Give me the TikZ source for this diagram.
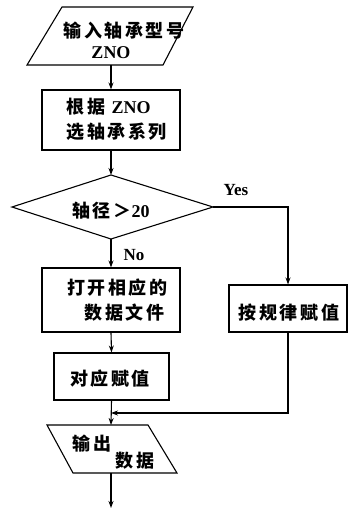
\documentclass[tikz,border=0pt]{standalone}
\usepackage{fontspec}
\newfontfamily\cjk[LetterSpace=14]{Noto Sans CJK SC}
\newfontfamily\latin{Liberation Serif}
\usetikzlibrary{arrows.meta}
\newcommand{\zno}{{\latin\bfseries\fontsize{18}{20}\selectfont ZNO}}
\begin{document}
\begin{tikzpicture}[x=1pt,y=-1pt, line width=1.1pt,
  >={Stealth[length=7pt,width=5pt]},
  txt/.style={font=\cjk\bfseries\fontsize{18}{20}\selectfont, inner sep=0pt},
  box/.style={draw, rectangle, inner sep=0pt},
  lbl/.style={font=\latin\bfseries\fontsize{17}{18}\selectfont, inner sep=0pt}]
\useasboundingbox (0,0) rectangle (350,512);

% input parallelogram
\draw (62,7) -- (193,7) -- (163,65) -- (27,65) -- cycle;
\node[txt] (in1) at (124,31) {输入轴承型号};
\node[txt] (in2) at (111,53) {\zno};
\coordinate (inB) at (111,65);

% select series
\node[box, minimum width=138pt, minimum height=60pt] (sel) at (111,120) {};
\node[txt, anchor=west] (sel1) at (66,107) {根据 \zno};
\node[txt, anchor=west] (sel2) at (66,132) {选轴承系列};

% decision
\coordinate (dT) at (111,175);
\coordinate (dR) at (213,207);
\coordinate (dB) at (111,239);
\coordinate (dL) at (12,207);
\draw (dT) -- (dR) -- (dB) -- (dL) -- cycle;
\node[txt] (cond) at (111,211) {轴径＞{\latin\bfseries 20}};

% open file
\node[box, minimum width=138pt, minimum height=64pt] (open) at (111,300) {};
\node[txt, anchor=east] (open1) at (168,288) {打开相应的};
\node[txt, anchor=east] (open2) at (165,313) {数据文件};

% rule assign
\node[box, minimum width=118pt, minimum height=47pt] (rule) at (288,308.5) {};
\node[txt] (rule1) at (289,313) {按规律赋值};

% assign
\node[box, minimum width=115pt, minimum height=47pt] (asg) at (111.5,376.5) {};
\node[txt] (asg1) at (110,379) {对应赋值};

% output parallelogram
\draw (47,425) -- (148,425) -- (177,473) -- (73,473) -- cycle;
\coordinate (outT) at (111,425);
\coordinate (outB) at (111,473);
\node[txt] (out1) at (92,444) {输出};
\node[txt] (out2) at (135,461) {数据};

\coordinate (merge) at (111,413);
\coordinate (endp) at (111,508);

% connectors
\draw[->] (inB) -- (sel.north);
\draw[->] (sel.south) -- (dT);
\draw[->] (dB) -- (open.north);
\draw[->] (dR) -| (rule.north);
\draw[->] (open.south) -- (asg.north);
\draw[->] (asg.south) -- (outT);
\draw[->] (rule.south) |- (merge);
\draw[->] (outB) -- (endp);

\node[lbl] (yes) at (236,190) {Yes};
\node[lbl] (no) at (134,255) {No};
\end{tikzpicture}
\end{document}
